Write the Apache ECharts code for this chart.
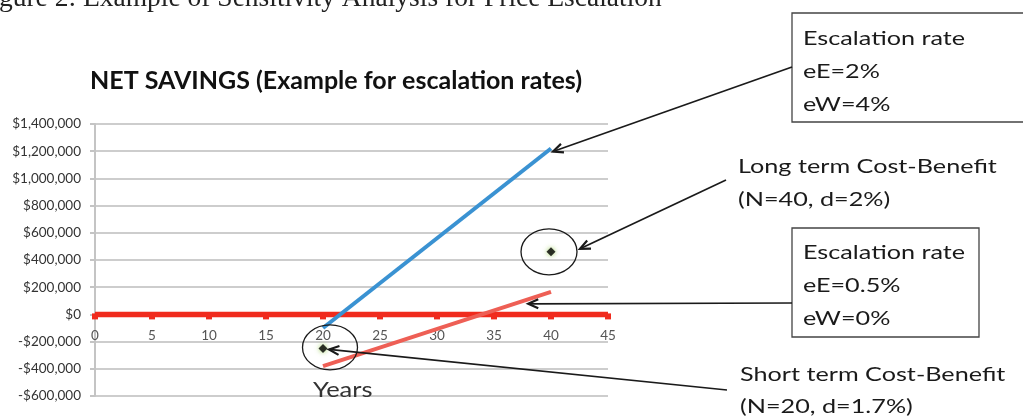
<!DOCTYPE html>
<html><head><meta charset="utf-8">
<script src="https://cdn.jsdelivr.net/npm/echarts@6/dist/echarts.min.js"></script>
<style>html,body{margin:0;padding:0;background:#fff}#c{width:1023px;height:419px}</style>
</head><body><div id="c"></div>
<script>
// ---- data ----
const baselineYears = [0, 5, 10, 15, 20, 25, 30, 35, 40, 45];
const baselineValues = [0, 0, 0, 0, 0, 0, 0, 0, 0, 0];
const highEscYears = [20, 40];
const highEscValues = [-100000, 1220000];   // eE=2%, eW=4%
const lowEscYears = [20, 40];
const lowEscValues = [-380000, 165000];     // eE=0.5%, eW=0%
const longTermPoint = [40, 460000];         // N=40, d=2%
const shortTermPoint = [20, -250000];       // N=20, d=1.7%

const titleText = 'NET SAVINGS (Example for escalation rates)';
const captionText = 'Figure 2: Example of Sensitivity Analysis for Price Escalation';
const xName = 'Years';
const box1Lines = ['Escalation rate', 'eE=2%', 'eW=4%'];
const longLines = ['Long term Cost-Benefit', '(N=40, d=2%)'];
const box2Lines = ['Escalation rate', 'eE=0.5%', 'eW=0%'];
const shortLines = ['Short term Cost-Benefit', '(N=20, d=1.7%)'];

const FONT = 'Lato, "Open Sans", sans-serif';
const chart = echarts.init(document.getElementById('c'), null, {renderer: 'canvas'});

function money(v) {
  const s = Math.abs(v).toString().replace(/\B(?=(\d{3})+(?!\d))/g, ',');
  return (v < 0 ? '-$' : '$') + s;
}
const zip = (xs, ys) => xs.map((x, i) => [x, ys[i]]);

const gridTop = 124, gridBottom = 23, H = 419;
const yMin = -600000, yMax = 1400000;
// shift the x axis up to the zero line of the value axis
const zeroOffset = -((H - gridBottom - gridTop) * (0 - yMin) / (yMax - yMin));

chart.setOption({
  animation: false,
  title: {
    text: titleText, left: 85, top: 63,
    textStyle: {fontFamily: FONT, fontWeight: 'bold', fontSize: 25, color: '#111'}
  },
  grid: {left: 95, right: 415, top: gridTop, bottom: gridBottom, containLabel: false},
  xAxis: {
    type: 'value', min: 0, max: 45, interval: 5, position: 'bottom', offset: zeroOffset,
    axisLine: {onZero: false, lineStyle: {color: '#bfbfbf', width: 1.5}},
    axisTick: {show: false},
    splitLine: {show: false},
    axisLabel: {margin: 14, fontFamily: FONT, fontSize: 13.5, color: '#555'}
  },
  yAxis: {
    type: 'value', min: yMin, max: yMax, interval: 200000,
    axisLine: {show: true, onZero: false, lineStyle: {color: '#c4c4c4', width: 2}},
    axisTick: {show: true, length: 5, lineStyle: {color: '#c4c4c4', width: 2}},
    splitLine: {lineStyle: {color: '#cdcdcd', width: 2}},
    axisLabel: {margin: 14, fontFamily: FONT, fontSize: 13.5, color: '#333', formatter: money}
  },
  series: [
    {type: 'line', data: zip(baselineYears, baselineValues), symbol: 'rect', symbolSize: [6, 6],
     symbolOffset: [0, 2], showSymbol: true, lineStyle: {color: '#f02b1d', width: 5.5},
     itemStyle: {color: '#f02b1d'}, z: 3},
    {type: 'line', data: zip(highEscYears, highEscValues), showSymbol: false,
     lineStyle: {color: '#3a92d2', width: 4}, z: 4},
    {type: 'line', data: zip(lowEscYears, lowEscValues), showSymbol: false,
     lineStyle: {color: '#ee5f55', width: 4}, z: 4},
    {type: 'scatter', data: [longTermPoint], symbol: 'diamond', symbolSize: 9,
     itemStyle: {color: '#000', shadowBlur: 5, shadowColor: '#8cc63f'}, z: 6},
    {type: 'scatter', data: [shortTermPoint], symbol: 'diamond', symbolSize: 9,
     itemStyle: {color: '#000', shadowBlur: 5, shadowColor: '#8cc63f'}, z: 6}
  ]
});

// ---- annotations anchored on the data through the chart's own scales ----
const P = d => chart.convertToPixel({gridIndex: 0}, d);
const longP = P(longTermPoint);
const shortP = P(shortTermPoint);
const highEnd = P([highEscYears[1], highEscValues[1]]);
const lowMid = P([38, 100000]);

const g = [];
const ink = '#1a1a1a';
function arrow(x1, y1, x2, y2) {
  g.push({type: 'line', shape: {x1, y1, x2, y2}, style: {stroke: ink, lineWidth: 1.7}, z: 20});
  const a = Math.atan2(y1 - y2, x1 - x2), L = 11, s = 0.42;
  g.push({type: 'polyline', shape: {points: [
    [x2 + L * Math.cos(a + s), y2 + L * Math.sin(a + s)], [x2, y2],
    [x2 + L * Math.cos(a - s), y2 + L * Math.sin(a - s)]]},
    style: {stroke: ink, lineWidth: 2.2, fill: null}, z: 20});
}
function lines(arr, x, y0, step) {
  arr.forEach((t, i) => g.push({type: 'text', x, y: y0 + i * step, scaleX: 1.26,
    style: {text: t, font: '20px ' + FONT, fill: ink, verticalAlign: 'middle'}, z: 21}));
}
// caption cropped at the top
g.push({type: 'text', x: -24, y: -1, style: {text: captionText, font: '27.5px "Liberation Serif", serif',
  fill: '#222', verticalAlign: 'middle'}});
// axis name
g.push({type: 'text', x: 313, y: 390, scaleX: 1.16,
  style: {text: xName, font: '22px ' + FONT, fill: '#333', verticalAlign: 'middle'}});
// ellipses
g.push({type: 'ellipse', shape: {cx: longP[0] - 2, cy: longP[1], rx: 28, ry: 23}, style: {stroke: ink, lineWidth: 1.3, fill: null}, z: 19});
g.push({type: 'ellipse', shape: {cx: shortP[0] + 7, cy: shortP[1] - 1, rx: 27.5, ry: 22.5}, style: {stroke: ink, lineWidth: 1.3, fill: null}, z: 19});
// box 1
g.push({type: 'rect', shape: {x: 792, y: 13, width: 240, height: 109}, style: {stroke: '#444', lineWidth: 1.3, fill: '#fff'}, z: 18});
lines(box1Lines, 803, 39, 33);
arrow(792, 67, highEnd[0] + 2, highEnd[1] + 3);
// long term
lines(longLines, 738, 167, 33);
arrow(726, 180, longP[0] + 29, longP[1] - 3);
// box 2
g.push({type: 'rect', shape: {x: 792, y: 228, width: 187, height: 109}, style: {stroke: '#444', lineWidth: 1.3, fill: '#fff'}, z: 18});
lines(box2Lines, 803, 253, 33);
arrow(792, 303, lowMid[0], lowMid[1] + 3);
// short term
lines(shortLines, 740, 375, 32);
arrow(727, 390, shortP[0] + 6, shortP[1] + 1);

chart.setOption({graphic: {elements: g}});
</script></body></html>
